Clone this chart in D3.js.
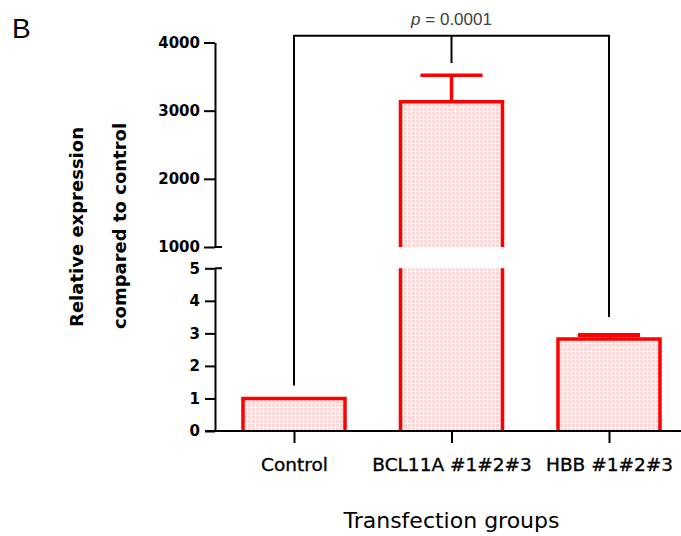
<!DOCTYPE html>
<html>
<head>
<meta charset="utf-8">
<script src="https://cdn.jsdelivr.net/npm/d3@7"></script>
<style>
  html, body { margin: 0; padding: 0; background: #fff; }
  svg { display: block; }
</style>
</head>
<body>
<div id="chart"></div>
<script>
// ---- data ----
const categories = ["Control", "BCL11A #1#2#3", "HBB #1#2#3"];
const means = [1.0, 3130, 2.83];
const errors = [0, 390, 0.12];
const lowerTicks = [0, 1, 2, 3, 4, 5];
const upperTicks = [1000, 2000, 3000, 4000];
const lowerDomain = [0, 5];
const upperDomain = [1000, 4000];
// significance bracket (values in axis units)
const bracketLeftBottom = 1.4;   // lower segment
const bracketRightBottom = 3.5;  // lower segment
const bracketTop = 4100;         // upper segment
const bracketMidBottom = 3700;   // upper segment
const pLabel = "0.0001";

// ---- layout ----
const W = 681, H = 536;
const svg = d3.select("#chart").append("svg").attr("width", W).attr("height", H);
svg.append("rect").attr("width", W).attr("height", H).attr("fill", "#fff");

const axisX = 215;
const yLow = d3.scaleLinear().domain(lowerDomain).range([431, 268.3]);
const yUp = d3.scaleLinear().domain(upperDomain).range([247, 42.5]);
const x = d3.scalePoint().domain(categories).range([294, 609]);
const barW = 102;
const red = "#ff0000";

// pattern fill
const defs = svg.append("defs");
const pat = defs.append("pattern").attr("id", "grid").attr("patternUnits", "userSpaceOnUse")
  .attr("width", 4).attr("height", 4);
pat.append("rect").attr("width", 4).attr("height", 4).attr("fill", "#ffd6d6");
pat.append("rect").attr("x", 3).attr("width", 1).attr("height", 4).attr("fill", "#fff");
pat.append("rect").attr("y", 3).attr("width", 4).attr("height", 1).attr("fill", "#fff");

// ---- bars ----
const gBars = svg.append("g");
categories.forEach((c, i) => {
  const v = means[i];
  const cx = x(c), x0 = cx - barW / 2, x1 = cx + barW / 2;
  if (v <= lowerDomain[1]) {
    const yt = yLow(v), yb = yLow(0);
    gBars.append("rect").attr("x", x0).attr("y", yt).attr("width", barW).attr("height", yb - yt)
      .attr("fill", "url(#grid)");
    gBars.append("path").attr("d", `M${x0},${yb}V${yt}H${x1}V${yb}`)
      .attr("fill", "none").attr("stroke", red).attr("stroke-width", 3.5);
    if (errors[i] > 0) {
      const ye = yLow(v + errors[i]);
      gBars.append("path").attr("d", `M${cx},${yt}V${ye}M${cx - 31},${ye}H${cx + 31}`)
        .attr("fill", "none").attr("stroke", red).attr("stroke-width", 4);
    }
  } else {
    // lower part (open top)
    const yt1 = yLow(lowerDomain[1]), yb1 = yLow(0);
    gBars.append("rect").attr("x", x0).attr("y", yt1).attr("width", barW).attr("height", yb1 - yt1)
      .attr("fill", "url(#grid)");
    gBars.append("path").attr("d", `M${x0},${yb1}V${yt1}M${x1},${yt1}V${yb1}`)
      .attr("fill", "none").attr("stroke", red).attr("stroke-width", 3.5);
    // upper part (open bottom)
    const yt2 = yUp(v), yb2 = yUp(upperDomain[0]);
    gBars.append("rect").attr("x", x0).attr("y", yt2).attr("width", barW).attr("height", yb2 - yt2)
      .attr("fill", "url(#grid)");
    gBars.append("path").attr("d", `M${x0},${yb2}V${yt2}H${x1}V${yb2}`)
      .attr("fill", "none").attr("stroke", red).attr("stroke-width", 3.5);
    if (errors[i] > 0) {
      const ye = yUp(v + errors[i]);
      gBars.append("path").attr("d", `M${cx},${yt2}V${ye}M${cx - 31},${ye}H${cx + 31}`)
        .attr("fill", "none").attr("stroke", red).attr("stroke-width", 3.5);
    }
  }
});

// ---- y axes ----
const tickFont = "DejaVu Sans, sans-serif";
function styleAxis(g) {
  g.select(".domain").attr("stroke", "#000").attr("stroke-width", 2);
  g.selectAll(".tick line").attr("stroke", "#000").attr("stroke-width", 2);
  g.selectAll(".tick text").attr("fill", "#000").attr("font-family", tickFont)
    .attr("font-size", 15).attr("font-weight", "bold");
}
const gUp = svg.append("g").attr("transform", `translate(${axisX},0)`)
  .call(d3.axisLeft(yUp).tickValues(upperTicks).tickFormat(d3.format("d"))
    .tickSize(11).tickSizeOuter(0).tickPadding(4));
styleAxis(gUp);
const gLow = svg.append("g").attr("transform", `translate(${axisX},0)`)
  .call(d3.axisLeft(yLow).tickValues(lowerTicks).tickFormat(d3.format("d"))
    .tickSize(10).tickSizeOuter(0).tickPadding(5));
styleAxis(gLow);
// break ticks extend across the axis
svg.append("path")
  .attr("d", `M${axisX},${yUp(upperDomain[0])}h7M${axisX},${yLow(lowerDomain[1])}h7`)
  .attr("stroke", "#000").attr("stroke-width", 2);

// ---- x axis ----
const gX = svg.append("g").attr("transform", `translate(0,${yLow(0)})`)
  .call(d3.axisBottom(x).tickSize(12).tickSizeOuter(0).tickPadding(15));
gX.select(".domain").remove();
gX.selectAll(".tick line").attr("stroke", "#000").attr("stroke-width", 2);
gX.selectAll(".tick text").attr("fill", "#000").attr("font-family", tickFont)
  .attr("font-size", 18.5).attr("stroke", "#000").attr("stroke-width", 0.35);
svg.append("line").attr("x1", axisX - 10).attr("x2", W).attr("y1", yLow(0)).attr("y2", yLow(0))
  .attr("stroke", "#000").attr("stroke-width", 2);

// ---- significance bracket ----
const xl = x(categories[0]), xr = x(categories[2]), xm = x(categories[1]);
svg.append("path")
  .attr("d", `M${xl},${yLow(bracketLeftBottom)}V${yUp(bracketTop)}H${xr}V${yLow(bracketRightBottom)}` +
             `M${xm},${yUp(bracketTop)}V${yUp(bracketMidBottom)}`)
  .attr("fill", "none").attr("stroke", "#000").attr("stroke-width", 2);
const pt = svg.append("text").attr("x", xm).attr("y", 25).attr("text-anchor", "middle")
  .attr("font-family", "Liberation Sans, Arial, sans-serif").attr("font-size", 17).attr("fill", "#404040");
pt.append("tspan").attr("font-style", "italic").text("p");
pt.append("tspan").text(" = " + pLabel);

// ---- titles ----
svg.append("text").attr("transform", "translate(82.5,227) rotate(-90)").attr("text-anchor", "middle")
  .attr("font-family", tickFont).attr("font-size", 18).attr("font-weight", "bold").attr("fill", "#000")
  .text("Relative expression");
svg.append("text").attr("transform", "translate(126,226) rotate(-90)").attr("text-anchor", "middle")
  .attr("font-family", tickFont).attr("font-size", 18).attr("font-weight", "bold").attr("fill", "#000")
  .text("compared to control");
svg.append("text").attr("x", xm).attr("y", 528).attr("text-anchor", "middle")
  .attr("font-family", tickFont).attr("font-size", 22).attr("fill", "#000")
  .text("Transfection groups");
svg.append("text").attr("x", 12).attr("y", 38)
  .attr("font-family", "Liberation Sans, Arial, sans-serif").attr("font-size", 28).attr("fill", "#000")
  .text("B");
</script>
</body>
</html>
